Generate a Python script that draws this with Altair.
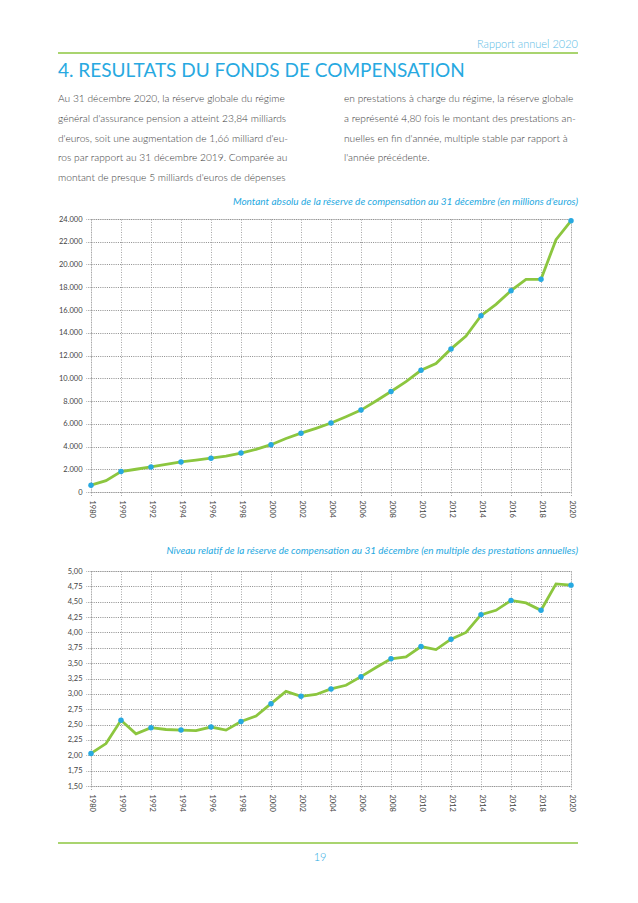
import altair as alt
import pandas as pd

# ---- data ----
annees = ["1980", "1985", "1990", "1991", "1992", "1993", "1994", "1995", "1996",
          "1997", "1998", "1999", "2000", "2001", "2002", "2003", "2004", "2005",
          "2006", "2007", "2008", "2009", "2010", "2011", "2012", "2013", "2014",
          "2015", "2016", "2017", "2018", "2019", "2020"]
annees_affichees = ["1980", "1990", "1992", "1994", "1996", "1998", "2000", "2002",
                    "2004", "2006", "2008", "2010", "2012", "2014", "2016", "2018", "2020"]
reserve = [600, 1000, 1800, 2000, 2200, 2430, 2640, 2800, 2970, 3160, 3420, 3750,
           4160, 4700, 5170, 5600, 6060, 6620, 7200, 8000, 8840, 9700, 10700, 11300,
           12580, 13700, 15500, 16500, 17700, 18700, 18700, 22180, 23840]
multiple = [2.03, 2.19, 2.57, 2.35, 2.45, 2.42, 2.41, 2.40, 2.46, 2.41, 2.55, 2.64,
            2.84, 3.04, 2.96, 2.99, 3.08, 3.14, 3.28, 3.43, 3.57, 3.60, 3.77, 3.72,
            3.89, 4.00, 4.29, 4.36, 4.52, 4.48, 4.36, 4.79, 4.77]
ticks_reserve = [0, 2000, 4000, 6000, 8000, 10000, 12000, 14000, 16000, 18000,
                 20000, 22000, 24000]
ticks_multiple = [1.5, 1.75, 2.0, 2.25, 2.5, 2.75, 3.0, 3.25, 3.5, 3.75, 4.0, 4.25,
                  4.5, 4.75, 5.0]

texte_gauche = [
    "Au 31 décembre 2020, la réserve globale du régime",
    "général d'assurance pension a atteint 23,84 milliards",
    "d'euros, soit une augmentation de 1,66 milliard d'eu-",
    "ros par rapport au 31 décembre 2019. Comparée au",
    "montant de presque 5 milliards d'euros de dépenses",
]
texte_droite = [
    "en prestations à charge du régime, la réserve globale",
    "a représenté 4,80 fois le montant des prestations an-",
    "nuelles en fin d'année, multiple stable par rapport à",
    "l'année précédente.",
]
titre_page = "4. RESULTATS DU FONDS DE COMPENSATION"
entete = "Rapport annuel 2020"
titre1 = "Montant absolu de la réserve de compensation au 31 décembre (en millions d'euros)"
titre2 = "Niveau relatif de la réserve de compensation au 31 décembre (en multiple des prestations annuelles)"
page = "19"

VERT = "#8cc63f"
BLEU = "#27a9e1"
GRIS = "#a6a6a6"
FONT = "Lato"

df1 = pd.DataFrame({"annee": annees, "valeur": reserve})
df2 = pd.DataFrame({"annee": annees, "valeur": multiple})
pts1 = df1[df1["annee"].isin(annees_affichees)]
pts2 = df2[df2["annee"].isin(annees_affichees)]
dummy = pd.DataFrame({"k": [0]})

W = 480


def x_enc():
    return alt.X(
        "annee:O", sort=annees,
        scale=alt.Scale(type="point", padding=0),
        axis=alt.Axis(values=annees_affichees, labelAngle=90, labelAlign="left",
                      labelBaseline="middle", labelPadding=3, labelFontSize=7.5,
                      labelFont=FONT, labelColor="#444444", grid=True,
                      gridDash=[1, 1.5], gridColor=GRIS, domain=False, tickSize=5,
                      tickDash=[1, 1.5], tickColor=GRIS, labelOverlap=False,
                      title=None),
    )


def y_enc(domaine, ticks, expr):
    return alt.Y(
        "valeur:Q",
        scale=alt.Scale(domain=domaine, nice=False, zero=False),
        axis=alt.Axis(values=ticks, labelExpr=expr, labelFontSize=7.5, labelFont=FONT,
                      labelColor="#444444", grid=True, gridDash=[1, 1.2],
                      gridColor="#8c8c8c", domain=False, tickSize=5,
                      tickDash=[1, 1.2], tickColor="#8c8c8c", labelPadding=4,
                      title=None),
    )


def texte(txt, x, y, size, color, align="left", style="normal", weight="normal",
          line_height=None):
    kw = dict(text=txt, fontSize=size, color=color, align=align, baseline="alphabetic",
              font=FONT, fontStyle=style, fontWeight=weight)
    if line_height:
        kw["lineHeight"] = line_height
    return alt.Chart(dummy).mark_text(**kw).encode(x=alt.value(x), y=alt.value(y))


def regle(x1, x2, y, color, width):
    return alt.Chart(dummy).mark_rule(color=color, strokeWidth=width).encode(
        x=alt.value(x1), x2=alt.value(x2), y=alt.value(y))


# ---- chart 1 (origin at page x 90, y 218) ----
ligne1 = alt.Chart(df1).mark_line(color=VERT, strokeWidth=2.8).encode(
    x=x_enc(), y=y_enc([0, 24000], ticks_reserve,
                       "replace(format(datum.value, ',d'), ',', '.')"))
points1 = alt.Chart(pts1).mark_circle(color=BLEU, size=30, opacity=1).encode(
    x=x_enc(), y=y_enc([0, 24000], ticks_reserve,
                       "replace(format(datum.value, ',d'), ',', '.')"))

c1 = alt.layer(
    regle(-82, -72, -210, "white", 1),
    texte(entete, 487, -171, 11, "#5cbde6", align="right", weight=300),
    regle(-33, 487, -166, VERT, 1.3),
    texte(titre_page, -33, -142, 19, BLEU),
    texte(texte_gauche, -33, -117, 10.2, "#3d3d3d", weight=300, line_height=19.8),
    texte(texte_droite, 253, -117, 10.2, "#3d3d3d", weight=300, line_height=19.8),
    texte(titre1, 487, -14, 10, BLEU, align="right", style="italic"),
    ligne1, points1,
).properties(width=W, height=273)

# ---- chart 2 (origin at page x 90, y 570) ----
ligne2 = alt.Chart(df2).mark_line(color=VERT, strokeWidth=2.8).encode(
    x=x_enc(), y=y_enc([1.5, 5.0], ticks_multiple,
                       "replace(format(datum.value, '.2f'), '.', ',')"))
points2 = alt.Chart(pts2).mark_circle(color=BLEU, size=30, opacity=1).encode(
    x=x_enc(), y=y_enc([1.5, 5.0], ticks_multiple,
                       "replace(format(datum.value, '.2f'), '.', ',')"))

c2 = alt.layer(
    texte(titre2, 487, -17, 10, BLEU, align="right", style="italic"),
    regle(-33, 487, 272, VERT, 1.3),
    texte(page, 229, 290, 11, BLEU, align="center", weight=300),
    ligne2, points2,
).properties(width=W, height=215)

chart = alt.vconcat(c1, c2, spacing=79, bounds="flush").properties(
    padding=0
).configure_view(strokeWidth=0).configure(background="white")

chart.save("out.html", embed_options={"renderer": "svg", "actions": False})
